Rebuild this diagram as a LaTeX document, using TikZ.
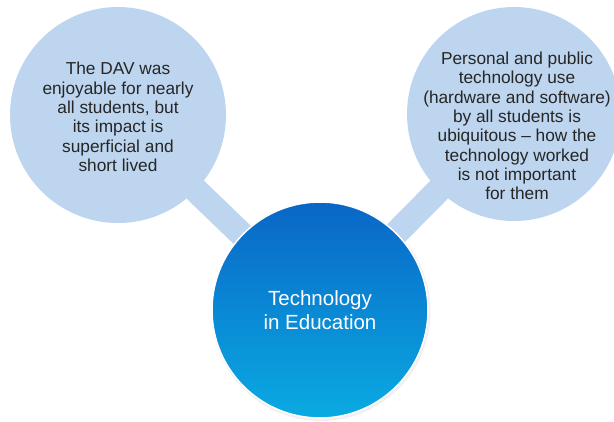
\documentclass[tikz,border=0pt]{standalone}
\usepackage{fontspec}
\setmainfont{Liberation Sans}
\definecolor{bubble}{HTML}{BDD5EE}
\definecolor{hubtop}{HTML}{0A66C6}
\definecolor{hubbot}{HTML}{0AAAE2}
\definecolor{txt}{HTML}{262626}
\begin{document}
\begin{tikzpicture}[x=1pt,y=-1pt,
  bubblecirc/.style={circle,fill=bubble,minimum size=216pt,inner sep=0pt},
  bartie/.style={draw=bubble,line width=25pt},
  sidetext/.style={align=center,text=txt,font=\fontsize{17.3}{19.3}\selectfont,inner sep=0pt},
  hub/.style={circle,minimum size=216pt,inner sep=0pt,top color=hubtop,bottom color=hubbot,
     draw=white,line width=1.5pt,text=white,align=center,font=\fontsize{20.5}{24}\selectfont}]
\useasboundingbox (0,0) rectangle (614,421);
\clip (0,0) rectangle (614,421);
\coordinate (Lc) at (118,115);
\coordinate (Rc) at (514,114);
\coordinate (Cc) at (320,310);
\draw[bartie] (Lc) -- (Cc);
\draw[bartie] (Rc) -- (Cc);
\node[bubblecirc] (L) at (Lc) {};
\node[bubblecirc,minimum size=214pt] (R) at (Rc) {};
\fill[black!20,opacity=0.3] (321,311.5) circle (109.5);
\node[hub] (C) at (Cc) {Technology\\in Education};
\node[sidetext] (Lt) at (118,117) {The DAV was\\enjoyable for nearly\\all students, but\\its impact is\\superficial and\\short lived};
\node[sidetext] (Rt) at (517,126) {Personal and public\\technology use\\(hardware and software)\\by all students is\\ubiquitous -- how the\\technology worked\\is not important\\for them};
\end{tikzpicture}
\end{document}
